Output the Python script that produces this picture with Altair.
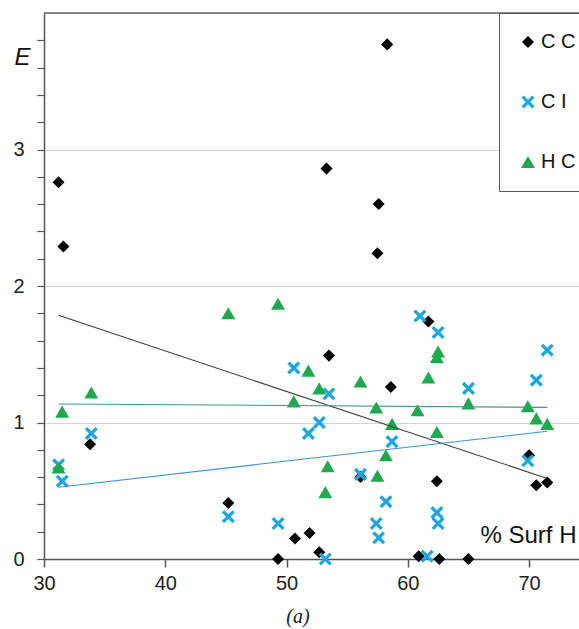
import altair as alt
import pandas as pd

# ---- data ----
series_names = ["C C", "C I", "H C"]

cc_x = [31.2, 31.6, 33.8, 45.2, 49.3, 50.7, 51.9, 52.7, 53.3, 53.5, 56.1, 57.5,
        57.6, 58.3, 58.6, 60.9, 61.7, 62.4, 62.6, 65.0, 70.0, 70.6, 71.5]
cc_y = [2.76, 2.29, 0.84, 0.41, 0.00, 0.15, 0.19, 0.05, 2.86, 1.49, 0.60, 2.24,
        2.60, 3.77, 1.26, 0.02, 1.74, 0.57, 0.00, 0.00, 0.76, 0.54, 0.56]

ci_x = [31.2, 31.5, 33.9, 45.2, 49.3, 50.6, 51.8, 52.7, 53.2, 53.5, 56.1, 57.4,
        57.6, 58.2, 58.7, 61.0, 61.6, 62.4, 62.5, 62.5, 65.0, 69.9, 70.6, 71.5]
ci_y = [0.69, 0.57, 0.92, 0.31, 0.26, 1.40, 0.92, 1.00, 0.00, 1.21, 0.62, 0.26,
        0.155, 0.42, 0.86, 1.78, 0.02, 0.34, 0.26, 1.66, 1.25, 0.72, 1.31, 1.53]

hc_x = [31.2, 31.5, 33.9, 45.2, 49.3, 50.6, 51.8, 52.7, 53.2, 53.4, 56.1, 57.4,
        57.5, 58.2, 58.7, 60.8, 61.7, 62.4, 62.4, 62.5, 65.0, 69.9, 70.6, 71.5]
hc_y = [0.67, 1.08, 1.22, 1.80, 1.87, 1.155, 1.38, 1.25, 0.49, 0.68, 1.30, 1.11,
        0.61, 0.76, 0.99, 1.09, 1.33, 0.93, 1.48, 1.52, 1.14, 1.12, 1.03, 0.99]

# trend line end points
trend_x = [31.2, 71.5]
trend_cc = [1.785, 0.59]
trend_ci = [0.526, 0.936]
trend_hc = [1.136, 1.111]

x_ticks = [30, 40, 50, 60, 70]
y_ticks = [round(i * 0.2, 1) for i in range(20)]
top_value = [4]

# ---- tables ----
pts = pd.concat([
    pd.DataFrame({"x": cc_x, "y": cc_y, "series": "C C"}),
    pd.DataFrame({"x": ci_x, "y": ci_y, "series": "C I"}),
    pd.DataFrame({"x": hc_x, "y": hc_y, "series": "H C"}),
], ignore_index=True)
pts["order"] = pts["series"].map({"C C": 0, "C I": 1, "H C": 2})

trend = pd.concat([
    pd.DataFrame({"x": trend_x, "y": trend_cc, "series": "C C"}),
    pd.DataFrame({"x": trend_x, "y": trend_ci, "series": "C I"}),
    pd.DataFrame({"x": trend_x, "y": trend_hc, "series": "H C"}),
], ignore_index=True)

FONT = "Liberation Sans"
X_PATH = ("M-0.64,-1L0,-0.36L0.64,-1L1,-0.64L0.36,0L1,0.64L0.64,1L0,0.36"
          "L-0.64,1L-1,0.64L-0.36,0L-1,-0.64Z")

xscale = alt.Scale(domain=[30, 74.12], nice=False, zero=False)
yscale = alt.Scale(domain=[0, 4], nice=False, zero=False)

x_axis = alt.Axis(values=x_ticks, format="d", grid=False, tickSize=8, tickWidth=1.5,
                  tickColor="#555", domainColor="#555", domainWidth=1.5,
                  labelFont=FONT, labelFontSize=20, labelColor="#222", labelPadding=6,
                  labelFlush=False, labelOverlap=False,
                  title="% Surf H", titleFont=FONT, titleFontSize=24,
                  titleFontWeight="normal", titleColor="#111", titleX=436, titleY=-17,
                  titleAlign="left", titleBaseline="alphabetic", titleAngle=0)

y_axis = alt.Axis(values=y_ticks, tickSize=7, tickWidth=1.2, tickColor="#555",
                  domainColor="#555", domainWidth=1.5,
                  labelExpr="(datum.value % 1 === 0) ? format(datum.value, 'd') : ''",
                  labelFont=FONT, labelFontSize=20, labelColor="#222", labelPadding=13,
                  labelFlush=False, labelOverlap=False,
                  grid=True, gridColor="#d4d4d4", gridWidth=1,
                  gridOpacity={"condition": {"test": "datum.value % 1 === 0 && datum.value > 0",
                                             "value": 1}, "value": 0},
                  title="E", titleFont=FONT, titleFontSize=24, titleFontStyle="italic",
                  titleFontWeight="normal", titleColor="#111", titleAngle=0,
                  titleX=-22, titleY=44, titleAlign="center", titleBaseline="middle")

legend = alt.Legend(orient="none", legendX=455, legendY=0, title=None,
                    padding=19, rowPadding=40, labelFont=FONT,
                    labelFontSize=20, labelColor="#111", labelOffset=3,
                    symbolSize=140, symbolStrokeWidth=0,
                    strokeColor="#555", fillColor="white")

points = alt.Chart(pts).mark_point(filled=True, opacity=1, strokeWidth=0).encode(
    x=alt.X("x:Q", scale=xscale, axis=x_axis),
    y=alt.Y("y:Q", scale=yscale, axis=y_axis),
    color=alt.Color("series:N",
                    scale=alt.Scale(domain=series_names,
                                    range=["#000000", "#1ea6e0", "#21a84e"]),
                    legend=legend),
    shape=alt.Shape("series:N",
                    scale=alt.Scale(domain=series_names,
                                    range=["diamond", X_PATH, "triangle-up"]),
                    legend=legend),
    size=alt.Size("series:N",
                  scale=alt.Scale(domain=series_names, range=[145, 195, 170]),
                  legend=None),
    order=alt.Order("order:Q"),
)

lines = alt.Chart(trend).mark_line(strokeWidth=1.1).encode(
    x=alt.X("x:Q", scale=xscale, axis=x_axis),
    y=alt.Y("y:Q", scale=yscale, axis=y_axis),
    detail="series:N",
    stroke=alt.Stroke("series:N",
                      scale=alt.Scale(domain=series_names,
                                      range=["#3a3a3a", "#3b92d0", "#3d9c7c"]),
                      legend=None),
)

top_rule = alt.Chart(pd.DataFrame({"top": top_value})).mark_rule(
    color="#666", strokeWidth=1.5).encode(y=alt.Y("top:Q", scale=yscale, axis=y_axis))

panel_label = alt.Chart(pd.DataFrame({"t": ["(a)"]})).mark_text(
    font="Liberation Serif", fontStyle="italic", fontSize=20, color="#222",
    align="center", baseline="middle").encode(
    text="t:N", x=alt.value(254), y=alt.value(604))

chart = alt.layer(points, lines, top_rule, panel_label).properties(
    width=535, height=546,
    padding={"left": 44, "top": 13, "right": 0, "bottom": 70},
    autosize=alt.AutoSizeParams(type="none"),
).configure_view(strokeOpacity=0).configure(background="white")

chart.save("out.html", embed_options={"renderer": "svg", "actions": False})
